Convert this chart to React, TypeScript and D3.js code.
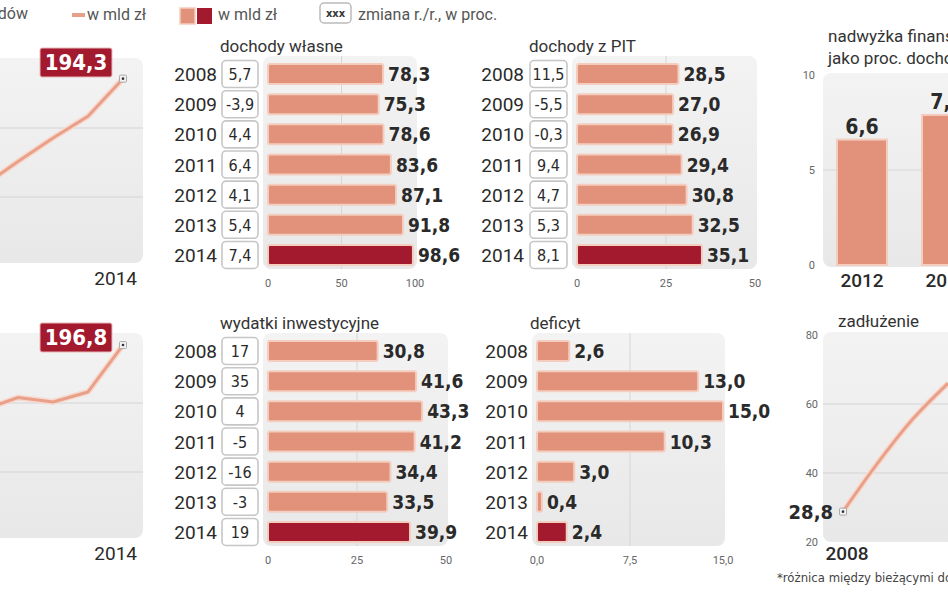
import React from 'react';
import * as d3 from 'd3';

// ---------- data ----------
const years = ['2008', '2009', '2010', '2011', '2012', '2013', '2014'];
const ownRevenue = [78.3, 75.3, 78.6, 83.6, 87.1, 91.8, 98.6];
const ownRevenueChange = ['5,7', '-3,9', '4,4', '6,4', '4,1', '5,4', '7,4'];
const pitRevenue = [28.5, 27.0, 26.9, 29.4, 30.8, 32.5, 35.1];
const pitChange = ['11,5', '-5,5', '-0,3', '9,4', '4,7', '5,3', '8,1'];
const investment = [30.8, 41.6, 43.3, 41.2, 34.4, 33.5, 39.9];
const investmentChange = ['17', '35', '4', '-5', '-16', '-3', '19'];
const deficit = [2.6, 13.0, 15.0, 10.3, 3.0, 0.4, 2.4];

const lineYears = [2010, 2011, 2012, 2013, 2014];
const totalRevenue = [163.2, 170.3, 177.1, 183.4, 194.3];
const totalSpending = [178.0, 181.6, 180.3, 183.2, 196.8];

const surplusYears = ['2012', '2013'];
const surplus = [6.6, 7.9];

const debtYears = [2008, 2009, 2010, 2011];
const debt = [28.8, 43.0, 55.7, 66.0];

// ---------- styles ----------
const LIGHT = '#e2927b';
const LIGHT_EDGE = '#f4cdbf';
const DARK = '#a3192e';
const LINE = '#e9a08a';
const TEXT = '#2a2a2a';
const SANS = "Roboto, 'Open Sans', sans-serif";
const COND = "'DejaVu Sans Condensed', 'DejaVu Sans', sans-serif";

const fmt = (v: number) => d3.format('.1f')(v).replace('.', ',');

type BarPanelProps = {
  title: string;
  titleX: number;
  values: number[];
  changes?: string[];
  yearRight: number;
  boxX?: number;
  boxW?: number;
  x0: number;
  x1: number;
  max: number;
  ticks: number[];
  tickFmt: (v: number) => string;
  rowTop: number;
};

function BarPanel(p: BarPanelProps) {
  const x = d3.scaleLinear().domain([0, p.max]).range([p.x0, p.x1]);
  const y = d3.scaleBand<string>().domain(years).range([p.rowTop, p.rowTop + 211]);
  const bh = 20;
  const bgTop = p.rowTop - 3;
  const bgH = 213;
  const mid = p.ticks[1];
  return (
    <g>
      <rect x={p.x0 - 5} y={bgTop} width={p.x1 - p.x0 + 7} height={bgH} rx={8} fill="url(#bgGrad)" />
      <line x1={x(mid)} x2={x(mid)} y1={bgTop} y2={bgTop + bgH} stroke="#d6d6d6" strokeWidth={1} />
      <text x={p.titleX} y={p.rowTop - 7} fontFamily={SANS} fontSize={17} fill="#333">{p.title}</text>
      {years.map((yr, i) => {
        const cy = (y(yr) as number) + y.bandwidth() / 2;
        const v = p.values[i];
        const last = i === years.length - 1;
        return (
          <g key={yr}>
            <text x={p.yearRight} y={cy + 7} textAnchor="end" fontFamily={SANS} fontSize={19} fill={TEXT}>{yr}</text>
            {p.changes && (
              <g>
                <rect x={p.boxX} y={cy - 13.5} width={p.boxW} height={27} rx={4} fill="#fff" stroke="#c6c6c6" strokeWidth={1.6} />
                <text x={(p.boxX as number) + (p.boxW as number) / 2} y={cy + 6} textAnchor="middle" fontFamily={COND} fontStretch="condensed" fontSize={16} fill={TEXT}>{p.changes[i]}</text>
              </g>
            )}
            <rect x={x(0)} y={cy - bh / 2} width={Math.max(1, x(v) - x(0))} height={bh} rx={2}
              fill={last ? DARK : LIGHT} stroke={LIGHT_EDGE} strokeWidth={2} />
            <text x={x(v) + 5} y={cy + 7} fontFamily={COND} fontStretch="condensed" fontWeight="bold" fontSize={19} fill={TEXT}>{fmt(v)}</text>
          </g>
        );
      })}
      {p.ticks.map((t) => (
        <text key={t} x={x(t)} y={p.rowTop + 228} textAnchor="middle" fontFamily={SANS} fontSize={11} fill="#666">{p.tickFmt(t)}</text>
      ))}
    </g>
  );
}

function Marker({ cx, cy }: { cx: number; cy: number }) {
  return (
    <g>
      <rect x={cx - 3.5} y={cy - 3.5} width={7} height={7} rx={1} fill="#f2f2f2" stroke="#aaa" strokeWidth={1} />
      <circle cx={cx} cy={cy} r={1.3} fill="#333" />
    </g>
  );
}

function LinePanel({ values, top, label }: { values: number[]; top: number; label: string }) {
  const x = d3.scaleLinear().domain([2010, 2014]).range([-17, 123]);
  const y = d3.scaleLinear().domain([140, 200]).range([top + 207, top]);
  const line = d3.line<number>().x((_, i) => x(lineYears[i])).y((d) => y(d));
  const path = line(values) as string;
  const lastV = values[values.length - 1];
  return (
    <g>
      <rect x={-20} y={top - 1} width={163} height={205} rx={8} fill="url(#bgGrad)" />
      {[180, 160].map((g) => (
        <line key={g} x1={-20} x2={143} y1={y(g)} y2={y(g)} stroke="#d4d4d4" strokeWidth={1} />
      ))}
      <path d={path} fill="none" stroke="#f8d9ce" strokeWidth={6} strokeLinejoin="round" />
      <path d={path} fill="none" stroke={LINE} strokeWidth={3} strokeLinejoin="round" />
      <Marker cx={x(2014)} cy={y(lastV)} />
      <rect x={40} y={top - 11} width={72} height={29} rx={2} fill={DARK} stroke="#e8b8b8" strokeWidth={1} />
      <text x={76} y={top + 11} textAnchor="middle" fontFamily={COND} fontStretch="condensed" fontWeight="bold" fontSize={22} fill="#fff">{label}</text>
      <text x={137} y={top + 226} textAnchor="end" fontFamily={SANS} fontSize={19} fill={TEXT}>2014</text>
    </g>
  );
}

function SurplusPanel() {
  const y = d3.scaleLinear().domain([0, 10]).range([265, 75]);
  const x = d3.scalePoint<string>().domain(surplusYears).range([862, 947]);
  const bw = 50;
  return (
    <g>
      <text x={828} y={42} fontFamily={SANS} fontSize={17} fill="#333">nadwyżka finansowa*</text>
      <text x={828} y={64} fontFamily={SANS} fontSize={17} fill="#333">jako proc. dochodów</text>
      <rect x={823} y={73} width={160} height={194} rx={8} fill="url(#bgGrad)" />
      <line x1={823} x2={983} y1={y(5)} y2={y(5)} stroke="#d6d6d6" strokeWidth={1} />
      {[10, 5, 0].map((t) => (
        <text key={t} x={815} y={y(t) + 4} textAnchor="end" fontFamily={SANS} fontSize={11} fill="#666">{t}</text>
      ))}
      {surplusYears.map((yr, i) => {
        const cx = x(yr) as number;
        return (
          <g key={yr}>
            <rect x={cx - bw / 2} y={y(surplus[i])} width={bw} height={y(0) - y(surplus[i])} fill={LIGHT} stroke={LIGHT_EDGE} strokeWidth={2} />
            <text x={cx} y={y(surplus[i]) - 6} textAnchor="middle" fontFamily={COND} fontStretch="condensed" fontWeight="bold" fontSize={21} fill={TEXT}>{fmt(surplus[i])}</text>
            <text x={cx} y={287} textAnchor="middle" fontFamily={SANS} fontWeight={500} fontSize={19} fill={TEXT}>{yr}</text>
          </g>
        );
      })}
    </g>
  );
}

function DebtPanel() {
  const y = d3.scaleLinear().domain([20, 80]).range([542, 335]);
  const x = d3.scaleLinear().domain([2008, 2009]).range([843, 878]);
  const line = d3.line<number>().x((_, i) => x(debtYears[i])).y((d) => y(d)).curve(d3.curveMonotoneX);
  const path = line(debt) as string;
  return (
    <g>
      <text x={838} y={327} fontFamily={SANS} fontSize={17} fill="#333">zadłużenie</text>
      <rect x={823} y={332} width={160} height={210} rx={8} fill="url(#bgGrad)" />
      {[40, 60].map((g) => (
        <line key={g} x1={823} x2={983} y1={y(g)} y2={y(g)} stroke="#d4d4d4" strokeWidth={1} />
      ))}
      {[80, 60, 40, 20].map((t) => (
        <text key={t} x={818} y={y(t) + 4} textAnchor="end" fontFamily={SANS} fontSize={11} fill="#666">{t}</text>
      ))}
      <path d={path} fill="none" stroke="#f8d9ce" strokeWidth={6} strokeLinejoin="round" />
      <path d={path} fill="none" stroke={LINE} strokeWidth={3} strokeLinejoin="round" />
      <Marker cx={x(2008)} cy={y(debt[0])} />
      <text x={833} y={y(debt[0]) + 7} textAnchor="end" fontFamily={COND} fontStretch="condensed" fontWeight="bold" fontSize={20} fill={TEXT}>{fmt(debt[0])}</text>
      <text x={x(2008) + 4} y={560} textAnchor="middle" fontFamily={SANS} fontWeight={500} fontSize={19} fill={TEXT}>2008</text>
      <text x={777} y={582} fontFamily={COND} fontStretch="condensed" fontSize={13} fill="#444">*różnica między bieżącymi dochodami a wydatkami</text>
    </g>
  );
}

function Legend() {
  return (
    <g fontFamily={SANS} fontSize={16} fill="#555">
      <text x={28} y={19} textAnchor="end">dochodów</text>
      <line x1={72} x2={85} y1={15} y2={15} stroke={LINE} strokeWidth={4} />
      <text x={87} y={20}>w mld zł</text>
      <rect x={180} y={8} width={15} height={16} fill={LIGHT} stroke={LIGHT_EDGE} strokeWidth={1.5} />
      <rect x={197} y={8} width={15} height={16} fill={DARK} />
      <text x={218} y={20}>w mld zł</text>
      <rect x={320} y={3} width={31} height={20} rx={4} fill="#fff" stroke="#bbb" strokeWidth={1.5} />
      <text x={335.5} y={17} textAnchor="middle" fontFamily={COND} fontStretch="condensed" fontWeight="bold" fontSize={11} fill="#333">xxx</text>
      <text x={358} y={20}>zmiana r./r., w proc.</text>
    </g>
  );
}

export default function App() {
  const one = (v: number) => d3.format('.1f')(v).replace('.', ',');
  const int = (v: number) => String(v);
  return (
    <svg width={948} height={593} style={{ position: 'absolute', left: 0, top: 0, background: '#fff' }}>
      <defs>
        <linearGradient id="bgGrad" x1="0" y1="0" x2="0" y2="1">
          <stop offset="0" stopColor="#f3f3f3" />
          <stop offset="1" stopColor="#e8e8e8" />
        </linearGradient>
      </defs>
      <rect width={948} height={593} fill="#fff" />
      <Legend />
      <LinePanel values={totalRevenue} top={59} label="194,3" />
      <LinePanel values={totalSpending} top={334} label="196,8" />
      <BarPanel title="dochody własne" titleX={220} values={ownRevenue} changes={ownRevenueChange}
        yearRight={217} boxX={222} boxW={36} x0={268} x1={415} max={100} ticks={[0, 50, 100]} tickFmt={int} rowTop={59} />
      <BarPanel title="dochody z PIT" titleX={529} values={pitRevenue} changes={pitChange}
        yearRight={524} boxX={530} boxW={37} x0={577} x1={755} max={50} ticks={[0, 25, 50]} tickFmt={int} rowTop={59} />
      <BarPanel title="wydatki inwestycyjne" titleX={220} values={investment} changes={investmentChange}
        yearRight={217} boxX={222} boxW={36} x0={268} x1={446} max={50} ticks={[0, 25, 50]} tickFmt={int} rowTop={336} />
      <BarPanel title="deficyt" titleX={530} values={deficit}
        yearRight={528} x0={537} x1={723} max={15} ticks={[0, 7.5, 15]} tickFmt={one} rowTop={336} />
      <SurplusPanel />
      <DebtPanel />
    </svg>
  );
}
